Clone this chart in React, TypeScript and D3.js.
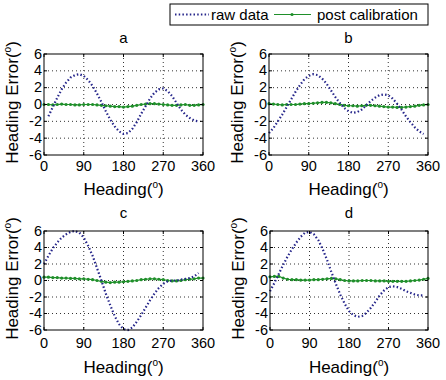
import React from "react";
import * as d3 from "d3";

// ---- data ----
const headingRawA = [10,20,30,40,50,60,70,80,90,100,110,120,130,140,150,160,170,180,190,200,210,220,230,240,250,260,270,280,290,300,310,320,330,340,350];
const headingRaw = [0,10,20,30,40,50,60,70,80,90,100,110,120,130,140,150,160,170,180,190,200,210,220,230,240,250,260,270,280,290,300,310,320,330,340,350];
const headingPost = [0,10,20,30,40,50,60,70,80,90,100,110,120,130,140,150,160,170,180,190,200,210,220,230,240,250,260,270,280,290,300,310,320,330,340,350,360];

const rawA = [-1.4,-0.3,0.8,1.8,2.6,3.2,3.5,3.6,3.4,2.9,2.2,1.3,0.3,-0.8,-1.8,-2.6,-3.2,-3.5,-3.4,-2.9,-2.1,-1.1,-0.2,0.7,1.4,1.8,1.9,1.6,1.0,0.2,-0.6,-1.2,-1.6,-1.9,-2.0];
const rawB = [-3.4,-2.8,-2.0,-1.2,-0.3,0.6,1.5,2.3,3.0,3.4,3.6,3.5,3.1,2.5,1.7,0.9,0.2,-0.4,-0.8,-1.0,-0.9,-0.6,-0.1,0.4,0.8,1.1,1.2,1.1,0.7,0.1,-0.6,-1.4,-2.1,-2.7,-3.2,-3.5];
const rawC = [2.0,3.0,3.9,4.6,5.2,5.6,5.9,6.0,5.8,5.2,4.2,3.0,1.5,0.0,-1.6,-3.0,-4.3,-5.3,-5.9,-6.0,-5.7,-5.0,-4.2,-3.3,-2.4,-1.6,-0.9,-0.4,-0.1,0.0,0.0,0.1,0.2,0.3,0.5,0.9];
const rawD = [-1.3,-0.3,0.8,1.9,2.9,3.8,4.6,5.3,5.8,5.9,5.6,4.9,3.8,2.5,1.0,-0.4,-1.7,-2.8,-3.7,-4.2,-4.4,-4.3,-3.9,-3.3,-2.6,-1.8,-1.2,-0.8,-0.7,-0.8,-1.0,-1.3,-1.5,-1.7,-1.8,-1.8];

const postA = [0.0,0.0,-0.05,0.0,0.05,0.0,0.0,-0.05,-0.05,0.0,0.0,0.0,-0.05,-0.1,-0.15,-0.2,-0.25,-0.25,-0.3,-0.25,-0.2,-0.1,0.0,0.05,0.1,0.1,0.05,0.0,-0.05,-0.1,-0.1,-0.05,0.0,-0.1,-0.1,-0.05,0.0];
const postB = [0.1,0.05,0.0,-0.05,0.0,0.0,0.0,0.05,0.1,0.1,0.15,0.2,0.25,0.25,0.2,0.1,0.0,-0.1,-0.15,-0.15,-0.2,-0.15,-0.1,-0.1,-0.15,-0.2,-0.25,-0.3,-0.3,-0.35,-0.35,-0.3,-0.25,-0.2,-0.1,-0.05,0.0];
const postC = [0.4,0.4,0.35,0.35,0.3,0.3,0.25,0.25,0.2,0.2,0.15,0.1,0.0,-0.1,-0.2,-0.25,-0.2,-0.2,-0.15,-0.1,-0.05,0.0,0.1,0.15,0.2,0.2,0.15,0.1,0.0,-0.05,-0.05,0.0,0.1,0.15,0.2,0.3,0.3];
const postD = [0.45,0.5,0.5,0.3,0.15,0.1,0.1,0.05,0.05,0.05,0.1,0.1,0.15,0.2,0.25,0.2,0.1,0.0,-0.05,-0.05,-0.05,0.0,0.0,0.0,-0.05,-0.05,-0.05,-0.1,-0.1,-0.1,-0.1,-0.1,-0.05,0.0,0.05,0.15,0.25];

const panelTitles = ["a", "b", "c", "d"];
const xTicks = [0, 90, 180, 270, 360];
const yTicks = [-6, -4, -2, 0, 2, 4, 6];
const seriesNames = ["raw data", "post calibration"];

const RAW_COLOR = "#25258a";
const POST_COLOR = "#1f8f2a";
const FONT = "'Liberation Sans', Arial, sans-serif";

type Box = { x0: number; x1: number; y0: number; y1: number };
const boxes: Box[] = [
  { x0: 44, x1: 203, y0: 54, y1: 155 },
  { x0: 269, x1: 428, y0: 54, y1: 155 },
  { x0: 44, x1: 203, y0: 231, y1: 330 },
  { x0: 270, x1: 428, y0: 231, y1: 330 },
];
const rawXs = [headingRawA, headingRaw, headingRaw, headingRaw];
const raws = [rawA, rawB, rawC, rawD];
const posts = [postA, postB, postC, postD];

function Panel({ i }: { i: number }) {
  const b = boxes[i];
  const x = d3.scaleLinear().domain([0, 360]).range([b.x0, b.x1]);
  const y = d3.scaleLinear().domain([-6, 6]).range([b.y1, b.y0]);
  const rawLine = d3.line<number>().x((_, k) => x(rawXs[i][k])).y((v) => y(v));
  const postLine = d3.line<number>().x((_, k) => x(headingPost[k])).y((v) => y(v));
  const cx = (b.x0 + b.x1) / 2;
  const cy = (b.y0 + b.y1) / 2;
  const top = i < 2;
  return (
    <g>
      <rect x={b.x0} y={b.y0} width={b.x1 - b.x0} height={b.y1 - b.y0} fill="white" />
      {xTicks.slice(1, -1).map((t) => (
        <line key={"gx" + t} x1={x(t)} x2={x(t)} y1={b.y0} y2={b.y1} stroke="#333" strokeWidth={1} strokeDasharray="1,3" />
      ))}
      {yTicks.slice(1, -1).map((t) => (
        <line key={"gy" + t} x1={b.x0} x2={b.x1} y1={y(t)} y2={y(t)} stroke="#333" strokeWidth={1} strokeDasharray="1,3" />
      ))}
      <path d={postLine(posts[i]) || ""} fill="none" stroke={POST_COLOR} strokeWidth={1.2} />
      {posts[i].map((v, k) => (
        <circle key={"p" + k} cx={x(headingPost[k])} cy={y(v)} r={1.6} fill={POST_COLOR} />
      ))}
      <path d={rawLine(raws[i]) || ""} fill="none" stroke={RAW_COLOR} strokeWidth={2.2} strokeDasharray="1.5,2.2" />
      <rect x={b.x0} y={b.y0} width={b.x1 - b.x0} height={b.y1 - b.y0} fill="none" stroke="#000" strokeWidth={1} />
      {xTicks.map((t) => (
        <g key={"tx" + t}>
          <line x1={x(t)} x2={x(t)} y1={b.y1} y2={b.y1 - 3} stroke="#000" />
          <line x1={x(t)} x2={x(t)} y1={b.y0} y2={b.y0 + 3} stroke="#000" />
          <text x={x(t)} y={top ? 171 : 348} textAnchor="middle" fontSize={14.5} fontFamily={FONT}>{t}</text>
        </g>
      ))}
      {yTicks.map((t) => (
        <g key={"ty" + t}>
          <line x1={b.x0} x2={b.x0 + 3} y1={y(t)} y2={y(t)} stroke="#000" />
          <line x1={b.x1} x2={b.x1 - 3} y1={y(t)} y2={y(t)} stroke="#000" />
          <text x={b.x0 - 2} y={y(t) + 4.5} textAnchor="end" fontSize={14.5} fontFamily={FONT}>{t}</text>
        </g>
      ))}
      <text x={cx} y={top ? 43 : 218} textAnchor="middle" fontSize={15} fontFamily={FONT}>{panelTitles[i]}</text>
      <text x={cx} y={top ? 195 : 373} textAnchor="middle" fontSize={17} fontFamily={FONT}>
        Heading(<tspan fontSize={10} dy={-7}>o</tspan><tspan dy={7}>)</tspan>
      </text>
      <text transform={`translate(${b.x0 - 26},${cy - 2}) rotate(-90)`} textAnchor="middle" fontSize={17} fontFamily={FONT}>
        Heading Error(<tspan fontSize={10} dy={-7}>o</tspan><tspan dy={7}>)</tspan>
      </text>
    </g>
  );
}

export default function App() {
  const lx0 = 170, lx1 = 428, ly0 = 4, ly1 = 25;
  const ly = (ly0 + ly1) / 2;
  return (
    <svg width={446} height={380} style={{ position: "absolute", left: 0, top: 0, background: "white" }}>
      <rect x={0} y={0} width={446} height={380} fill="white" />
      {[0, 1, 2, 3].map((i) => <Panel key={i} i={i} />)}
      <rect x={lx0} y={ly0} width={lx1 - lx0} height={ly1 - ly0} fill="white" stroke="#000" strokeWidth={1} />
      <line x1={175} x2={209} y1={ly} y2={ly} stroke={RAW_COLOR} strokeWidth={2.2} strokeDasharray="1.5,2.2" />
      <text x={211} y={ly + 5} fontSize={15} fontFamily={FONT}>{seriesNames[0]}</text>
      <line x1={274} x2={311} y1={ly} y2={ly} stroke={POST_COLOR} strokeWidth={1.2} />
      <circle cx={292} cy={ly} r={1.6} fill={POST_COLOR} />
      <text x={317} y={ly + 5} fontSize={15} fontFamily={FONT}>{seriesNames[1]}</text>
    </svg>
  );
}
